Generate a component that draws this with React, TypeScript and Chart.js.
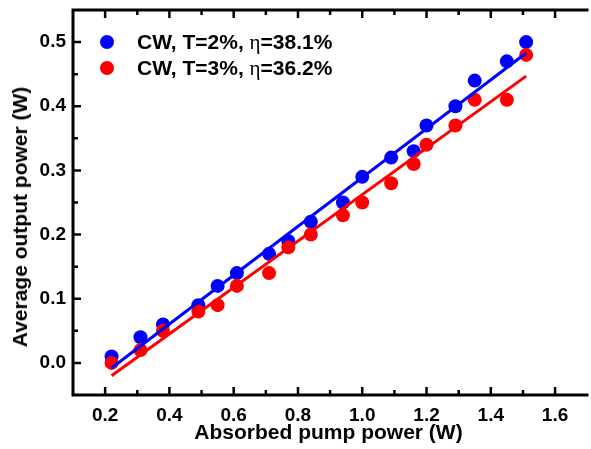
import React, { useEffect, useRef } from "react";
import { Chart, registerables } from "chart.js";

Chart.register(...registerables);

// Absorbed pump power (W)
const pumpPower = [0.22, 0.31, 0.38, 0.49, 0.55, 0.61, 0.71, 0.77, 0.84, 0.94, 1.0, 1.09, 1.16, 1.2, 1.29, 1.35, 1.45, 1.51];
// Average output power (W)
const outputT2 = [0.01, 0.04, 0.06, 0.09, 0.12, 0.14, 0.17, 0.19, 0.22, 0.25, 0.29, 0.32, 0.33, 0.37, 0.4, 0.44, 0.47, 0.5];
const outputT3 = [0.0, 0.02, 0.05, 0.08, 0.09, 0.12, 0.14, 0.18, 0.2, 0.23, 0.25, 0.28, 0.31, 0.34, 0.37, 0.41, 0.41, 0.48];
// Linear fit end points
const fitX = [0.22, 1.51];
const fitT2 = [-0.008, 0.483];
const fitT3 = [-0.02, 0.447];

const seriesLabels = ["CW, T=2%, η=38.1%", "CW, T=3%, η=36.2%"];
const seriesColors = ["#0000ff", "#ff0000"];

const xTicks = [0.2, 0.4, 0.6, 0.8, 1.0, 1.2, 1.4, 1.6];
const xMinorTicks = [0.3, 0.5, 0.7, 0.9, 1.1, 1.3, 1.5];
const yTicks = [0.0, 0.1, 0.2, 0.3, 0.4, 0.5];
const yMinorTicks = [0.05, 0.15, 0.25, 0.35, 0.45];

const xTitle = "Absorbed pump power (W)";
const yTitle = "Average output power (W)";

const FONT = "'Liberation Sans', Arial, Helvetica, sans-serif";

const framePlugin = {
  id: "frame",
  afterDraw(chart: any) {
    const { ctx, chartArea, scales } = chart;
    const { left, top, right, bottom } = chartArea;
    const x = scales.x;
    const y = scales.y;
    ctx.save();
    ctx.strokeStyle = "#000";
    ctx.lineWidth = 3;
    ctx.lineCap = "square";
    ctx.beginPath();
    ctx.moveTo(right + 3, top);
    ctx.lineTo(left, top);
    ctx.lineTo(left, bottom);
    ctx.lineTo(right + 3, bottom);
    ctx.stroke();
    ctx.lineCap = "butt";
    ctx.lineWidth = 2.5;
    ctx.beginPath();
    const tick = (v: number, len: number) => {
      const px = x.getPixelForValue(v);
      ctx.moveTo(px, bottom);
      ctx.lineTo(px, bottom - len);
      ctx.moveTo(px, top);
      ctx.lineTo(px, top + len);
    };
    xTicks.forEach((v) => tick(v, 8));
    xMinorTicks.forEach((v) => tick(v, 5));
    const ytick = (v: number, len: number) => {
      const py = y.getPixelForValue(v);
      ctx.moveTo(left, py);
      ctx.lineTo(left + len, py);
    };
    yTicks.forEach((v) => ytick(v, 8));
    yMinorTicks.forEach((v) => ytick(v, 5));
    ctx.stroke();
    ctx.restore();
  },
};

function ChartCanvas() {
  const ref = useRef<HTMLCanvasElement | null>(null);
  useEffect(() => {
    if (!ref.current) return;
    const pts = (xs: number[], ys: number[]) => xs.map((v, i) => ({ x: v, y: ys[i] }));
    const chart = new Chart(ref.current, {
      type: "scatter",
      data: {
        datasets: [
          {
            type: "line",
            label: seriesLabels[0] + " fit",
            data: pts(fitX, fitT2),
            borderColor: seriesColors[0],
            borderWidth: 3,
            pointRadius: 0,
            fill: false,
          } as any,
          {
            type: "line",
            label: seriesLabels[1] + " fit",
            data: pts(fitX, fitT3),
            borderColor: seriesColors[1],
            borderWidth: 3,
            pointRadius: 0,
            fill: false,
          } as any,
          {
            label: seriesLabels[1],
            data: pts(pumpPower, outputT3),
            backgroundColor: seriesColors[1],
            borderWidth: 0,
            pointRadius: 7,
            pointHoverRadius: 7,
          },
          {
            label: seriesLabels[0],
            data: pts(pumpPower, outputT2),
            backgroundColor: seriesColors[0],
            borderWidth: 0,
            pointRadius: 7,
            pointHoverRadius: 7,
          },
        ],
      },
      options: {
        animation: false,
        responsive: false,
        events: [],
        layout: { padding: { top: 10, right: 0, bottom: 0, left: 0 } },
        plugins: { legend: { display: false }, tooltip: { enabled: false } },
        scales: {
          x: {
            type: "linear",
            min: 0.1,
            max: 1.69,
            afterBuildTicks: (s: any) => {
              s.ticks = xTicks.map((value) => ({ value }));
            },
            afterFit: (s: any) => {
              s.height = 54;
              s.paddingLeft = 0;
              s.paddingRight = 0;
            },
            grid: { display: false, drawTicks: false },
            border: { display: false },
            ticks: {
              color: "#000",
              padding: 9,
              maxRotation: 0,
              font: { family: FONT, weight: "bold", size: 19 },
              callback: (v: any) => Number(v).toFixed(1),
            },
            title: {
              display: true,
              text: xTitle,
              color: "#000",
              font: { family: FONT, weight: "bold", size: 21 },
              padding: { top: 0, bottom: 3 },
            },
          },
          y: {
            type: "linear",
            min: -0.05,
            max: 0.55,
            afterBuildTicks: (s: any) => {
              s.ticks = yTicks.map((value) => ({ value }));
            },
            afterFit: (s: any) => {
              s.width = 73;
              s.paddingTop = 0;
              s.paddingBottom = 0;
            },
            grid: { display: false, drawTicks: false },
            border: { display: false },
            ticks: {
              color: "#000",
              padding: 7,
              font: { family: FONT, weight: "bold", size: 19 },
              callback: (v: any) => Number(v).toFixed(1),
            },
            title: { display: false, text: yTitle },
          },
        },
      },
      plugins: [framePlugin],
    });
    return () => chart.destroy();
  }, []);
  return <canvas ref={ref} width={591} height={449} style={{ display: "block" }} />;
}

function LegendRow({ label, color, cy }: { label: string; color: string; cy: number }) {
  const parts = label.split("η");
  return (
    <div
      style={{
        position: "absolute",
        left: 100,
        top: cy - 12,
        height: 24,
        display: "flex",
        alignItems: "center",
        whiteSpace: "nowrap",
        fontFamily: FONT,
        fontWeight: "bold",
        fontSize: 21,
        color: "#000",
      }}
    >
      <span
        style={{
          display: "inline-block",
          width: 14,
          height: 14,
          borderRadius: "50%",
          background: color,
          marginRight: 23,
        }}
      />
      <span>
        {parts[0]}
        {parts.length > 1 && (
          <span style={{ fontFamily: "'Liberation Serif', 'DejaVu Serif', serif", fontWeight: "normal" }}>η</span>
        )}
        {parts[1]}
      </span>
    </div>
  );
}

function YTitle() {
  return (
    <div
      style={{
        position: "absolute",
        left: 20,
        top: 217,
        transform: "translate(-50%, -50%) rotate(-90deg)",
        whiteSpace: "nowrap",
        fontFamily: FONT,
        fontWeight: "bold",
        fontSize: 21,
        lineHeight: "24px",
        color: "#000",
      }}
    >
      {yTitle}
    </div>
  );
}

export default function App() {
  return (
    <div style={{ position: "absolute", left: 0, top: 0, width: 591, height: 449, background: "#fff" }}>
      <ChartCanvas />
      <YTitle />
      <LegendRow label={seriesLabels[0]} color={seriesColors[0]} cy={42} />
      <LegendRow label={seriesLabels[1]} color={seriesColors[1]} cy={68} />
    </div>
  );
}
